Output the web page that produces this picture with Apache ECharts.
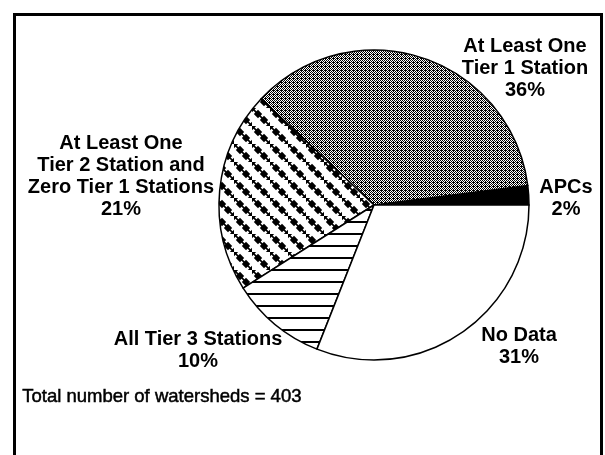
<!DOCTYPE html>
<html>
<head>
<meta charset="utf-8">
<script src="https://cdn.jsdelivr.net/npm/echarts@6/dist/echarts.min.js"></script>
<style>
  html, body { margin: 0; padding: 0; background: #ffffff; }
  #chart { width: 605px; height: 455px; }
</style>
</head>
<body>
<div id="chart"></div>
<script>
// Watershed monitoring status (percent of watersheds)
const categories = [
  'APCs',
  'At Least One\nTier 1 Station',
  'At Least One\nTier 2 Station and\nZero Tier 1 Stations',
  'All Tier 3 Stations',
  'No Data'
];
const shares = [2, 36, 21, 10, 31];
const totalWatersheds = 403;

// Fill textures
function makeTile(w, h, draw) {
  const c = document.createElement('canvas');
  c.width = w; c.height = h;
  const ctx = c.getContext('2d');
  ctx.fillStyle = '#ffffff';
  ctx.fillRect(0, 0, w, h);
  draw(ctx);
  return { image: c, repeat: 'repeat' };
}

// fine dither grey
const ditherFill = makeTile(4, 4, ctx => {
  ctx.fillStyle = '#000000';
  for (let y = 0; y < 4; y++) {
    for (let x = 0; x < 4; x++) {
      if ((x + y) % 2 === 0) ctx.fillRect(x, y, 1, 1);
    }
  }
  ctx.fillRect(1, 2, 1, 1);
});

// chains of diamonds running down-right
const diamondFill = makeTile(18, 18, ctx => {
  ctx.fillStyle = '#000000';
  ctx.strokeStyle = '#000000';
  ctx.lineWidth = 1.6;
  const d = 4.2;
  ctx.beginPath();
  ctx.moveTo(-2, -2); ctx.lineTo(20, 20);
  ctx.stroke();
  [[0, 0], [6, 6], [12, 12], [18, 18]].forEach(([cx, cy]) => {
    ctx.beginPath();
    ctx.moveTo(cx, cy - d);
    ctx.lineTo(cx + d, cy);
    ctx.lineTo(cx, cy + d);
    ctx.lineTo(cx - d, cy);
    ctx.closePath();
    ctx.fill();
  });
});

// horizontal rules
const ruleFill = makeTile(8, 12, ctx => {
  ctx.fillStyle = '#000000';
  ctx.fillRect(0, 5, 8, 2);
});

const fills = ['#000000', ditherFill, diamondFill, ruleFill, '#ffffff'];

// label anchor points (text block centres)
const labelAnchors = [
  [566, 198],
  [525, 68],
  [121, 176],
  [198, 350],
  [519, 346]
];

const chart = echarts.init(document.getElementById('chart'), null, { renderer: 'canvas' });

chart.setOption({
  animation: false,
  backgroundColor: '#ffffff',
  graphic: [
    {
      type: 'rect',
      shape: { x: 14.5, y: 14.5, width: 587, height: 470 },
      style: { fill: 'none', stroke: '#000000', lineWidth: 3 },
      silent: true
    },
    {
      type: 'text',
      left: 22,
      top: 387,
      style: {
        text: 'Total number of watersheds = ' + totalWatersheds,
        font: '18.5px "Liberation Sans", Arial, sans-serif',
        fill: '#000000',
        stroke: '#000000',
        lineWidth: 0.5
      },
      silent: true
    }
  ],
  series: [{
    type: 'pie',
    center: [374, 205],
    radius: 155,
    startAngle: 0,
    clockwise: false,
    avoidLabelOverlap: false,
    silent: true,
    itemStyle: { borderColor: '#000000', borderWidth: 1.5 },
    label: {
      show: true,
      position: 'outside',
      formatter: p => p.name + '\n' + p.value + '%',
      color: '#000000',
      fontFamily: '"Liberation Sans", Arial, sans-serif',
      fontWeight: 'bold',
      fontSize: 20,
      lineHeight: 22,
      align: 'center'
    },
    labelLine: { show: false },
    labelLayout: params => ({
      x: labelAnchors[params.dataIndex][0],
      y: labelAnchors[params.dataIndex][1],
      align: 'center',
      verticalAlign: 'middle'
    }),
    emphasis: { disabled: true },
    data: categories.map((name, i) => ({
      name: name,
      value: shares[i],
      itemStyle: { color: fills[i] }
    }))
  }]
});
</script>
</body>
</html>
